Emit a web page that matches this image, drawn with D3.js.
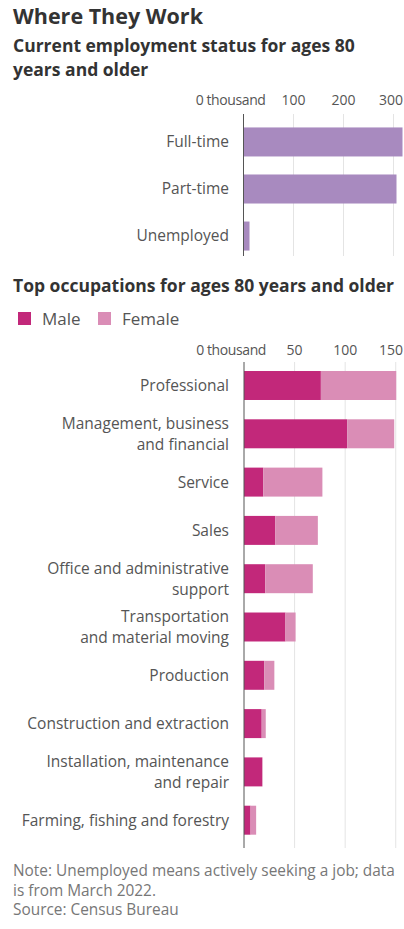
<!DOCTYPE html>
<html>
<head>
<meta charset="utf-8">
<script src="https://cdn.jsdelivr.net/npm/d3@7"></script>
<style>
  html, body { margin: 0; padding: 0; background: #fff; }
  svg { display: block; font-family: "Open Sans", "Noto Sans", sans-serif; }
</style>
</head>
<body>
<svg id="chart" width="404" height="929"></svg>
<script>
// ---- Data ----
const statusCategories = ["Full-time", "Part-time", "Unemployed"];
const statusValues = [318, 306, 12];
const statusTicks = [0, 100, 200, 300];

const occupations = [
  "Professional",
  "Management, business|and financial",
  "Service",
  "Sales",
  "Office and administrative|support",
  "Transportation|and material moving",
  "Production",
  "Construction and extraction",
  "Installation, maintenance|and repair",
  "Farming, fishing and forestry"
];
const maleValues   = [76, 102, 19, 31, 21, 41, 20, 17.5, 18, 6.5];
const femaleValues = [74.5, 46.5, 58.5, 42, 47, 10, 10, 4, 0.5, 5.5];
const occTicks = [0, 50, 100, 150];
const seriesNames = ["Male", "Female"];

// ---- Styles ----
const colPurple = "#a88abf";
const colMale = "#c2287a";
const colFemale = "#da8db6";
const gridCol = "#e4e4e4";
const axisCol = "#555";
const labelCol = "#555";
const catSize = 15.5;
const tickSize = 14;

const svg = d3.select("#chart");

// Titles
svg.append("text").attr("x", 13).attr("y", 24)
  .attr("font-size", 21.5).attr("font-weight", 700).attr("fill", "#333")
  .text("Where They Work");
svg.append("text").attr("x", 13).attr("y", 52)
  .attr("font-size", 17.5).attr("font-weight", 700).attr("fill", "#333")
  .text("Current employment status for ages 80");
svg.append("text").attr("x", 13).attr("y", 76)
  .attr("font-size", 17.5).attr("font-weight", 700).attr("fill", "#333")
  .text("years and older");

function tickX(scale, d, ticks) {
  if (d === 0) return scale(d) + 22;
  if (d === ticks[ticks.length - 1]) return 403;
  return scale(d);
}
function tickAnchor(d, ticks) {
  if (d === 0) return "end";
  if (d === ticks[ticks.length - 1]) return "end";
  return "middle";
}

// ---- Top chart ----
const x1 = d3.scaleLinear().domain([0, 320]).range([243.5, 403.5]);
const y1 = d3.scaleBand().domain(statusCategories).range([118.5, 259.5])
  .paddingInner(0.383).paddingOuter(0.19);

const gTop = svg.append("g");
gTop.selectAll("line.grid").data(statusTicks.slice(1)).join("line")
  .attr("class", "grid")
  .attr("x1", d => x1(d)).attr("x2", d => x1(d))
  .attr("y1", 114).attr("y2", 256)
  .attr("stroke", gridCol).attr("stroke-width", 1);
gTop.selectAll("text.tick").data(statusTicks).join("text")
  .attr("class", "tick")
  .attr("x", d => tickX(x1, d, statusTicks))
  .attr("y", 105)
  .attr("text-anchor", d => tickAnchor(d, statusTicks))
  .attr("font-size", tickSize).attr("fill", labelCol)
  .attr("letter-spacing", d => d === 0 ? "-0.4" : "0")
  .text(d => d === 0 ? "0 thousand" : d);
gTop.selectAll("rect").data(statusCategories).join("rect")
  .attr("x", x1(0))
  .attr("y", d => y1(d))
  .attr("width", (d, i) => x1(statusValues[i]) - x1(0))
  .attr("height", y1.bandwidth())
  .attr("fill", colPurple);
gTop.selectAll("text.cat").data(statusCategories).join("text")
  .attr("class", "cat")
  .attr("x", 229).attr("y", d => y1(d) + y1.bandwidth() / 2)
  .attr("dy", "0.35em").attr("text-anchor", "end")
  .attr("font-size", catSize).attr("fill", labelCol)
  .text(d => d);
gTop.append("line")
  .attr("x1", x1(0)).attr("x2", x1(0)).attr("y1", 114).attr("y2", 256)
  .attr("stroke", axisCol).attr("stroke-width", 1);

// ---- Bottom chart ----
svg.append("text").attr("x", 13).attr("y", 292)
  .attr("font-size", 17.5).attr("font-weight", 700).attr("fill", "#333")
  .text("Top occupations for ages 80 years and older");

const legendColors = [colMale, colFemale];
const legendX = [18, 98];
const lg = svg.append("g");
seriesNames.forEach((s, i) => {
  lg.append("rect").attr("x", legendX[i]).attr("y", 312).attr("width", 13).attr("height", 13)
    .attr("fill", legendColors[i]);
  lg.append("text").attr("x", legendX[i] + 24).attr("y", 325)
    .attr("font-size", 17).attr("fill", labelCol).text(s);
});

const x2 = d3.scaleLinear().domain([0, 155]).range([244, 400.8]);
const y2 = d3.scaleBand().domain(occupations).range([361.35, 844.35])
  .paddingInner(0.4).paddingOuter(0.2);

const gBot = svg.append("g");
gBot.selectAll("line.grid").data(occTicks.slice(1)).join("line")
  .attr("class", "grid")
  .attr("x1", d => x2(d)).attr("x2", d => x2(d))
  .attr("y1", 362).attr("y2", 848)
  .attr("stroke", gridCol).attr("stroke-width", 1);
gBot.selectAll("text.tick").data(occTicks).join("text")
  .attr("class", "tick")
  .attr("x", d => tickX(x2, d, occTicks))
  .attr("y", 355)
  .attr("text-anchor", d => tickAnchor(d, occTicks))
  .attr("font-size", tickSize).attr("fill", labelCol)
  .attr("letter-spacing", d => d === 0 ? "-0.4" : "0")
  .text(d => d === 0 ? "0 thousand" : d);

const stackData = occupations.map((o, i) => ({ cat: o, Male: maleValues[i], Female: femaleValues[i] }));
const series = d3.stack().keys(seriesNames)(stackData);
gBot.selectAll("g.series").data(series).join("g")
  .attr("class", "series")
  .attr("fill", (d, i) => legendColors[i])
  .selectAll("rect").data(d => d).join("rect")
  .attr("x", d => x2(d[0]))
  .attr("y", d => y2(d.data.cat))
  .attr("width", d => Math.max(0, x2(d[1]) - x2(d[0])))
  .attr("height", y2.bandwidth());

occupations.forEach(o => {
  const lines = o.split("|");
  const cy = y2(o) + y2.bandwidth() / 2;
  const t = gBot.append("text").attr("text-anchor", "end")
    .attr("font-size", catSize).attr("fill", labelCol);
  lines.forEach((ln, j) => {
    const off = lines.length === 1 ? 0 : (j === 0 ? -10.5 : 10.5);
    t.append("tspan").attr("x", 229).attr("y", cy + off).attr("dy", "0.35em").text(ln);
  });
});
gBot.append("line")
  .attr("x1", x2(0)).attr("x2", x2(0)).attr("y1", 362).attr("y2", 848)
  .attr("stroke", axisCol).attr("stroke-width", 1);

// ---- Notes ----
const notes = [
  "Note: Unemployed means actively seeking a job; data",
  "is from March 2022.",
  "Source: Census Bureau"
];
svg.selectAll("text.note").data(notes).join("text")
  .attr("class", "note")
  .attr("x", 13).attr("y", (d, i) => 876 + i * 19.5)
  .attr("font-size", 15.4).attr("fill", "#777")
  .text(d => d);
</script>
</body>
</html>
